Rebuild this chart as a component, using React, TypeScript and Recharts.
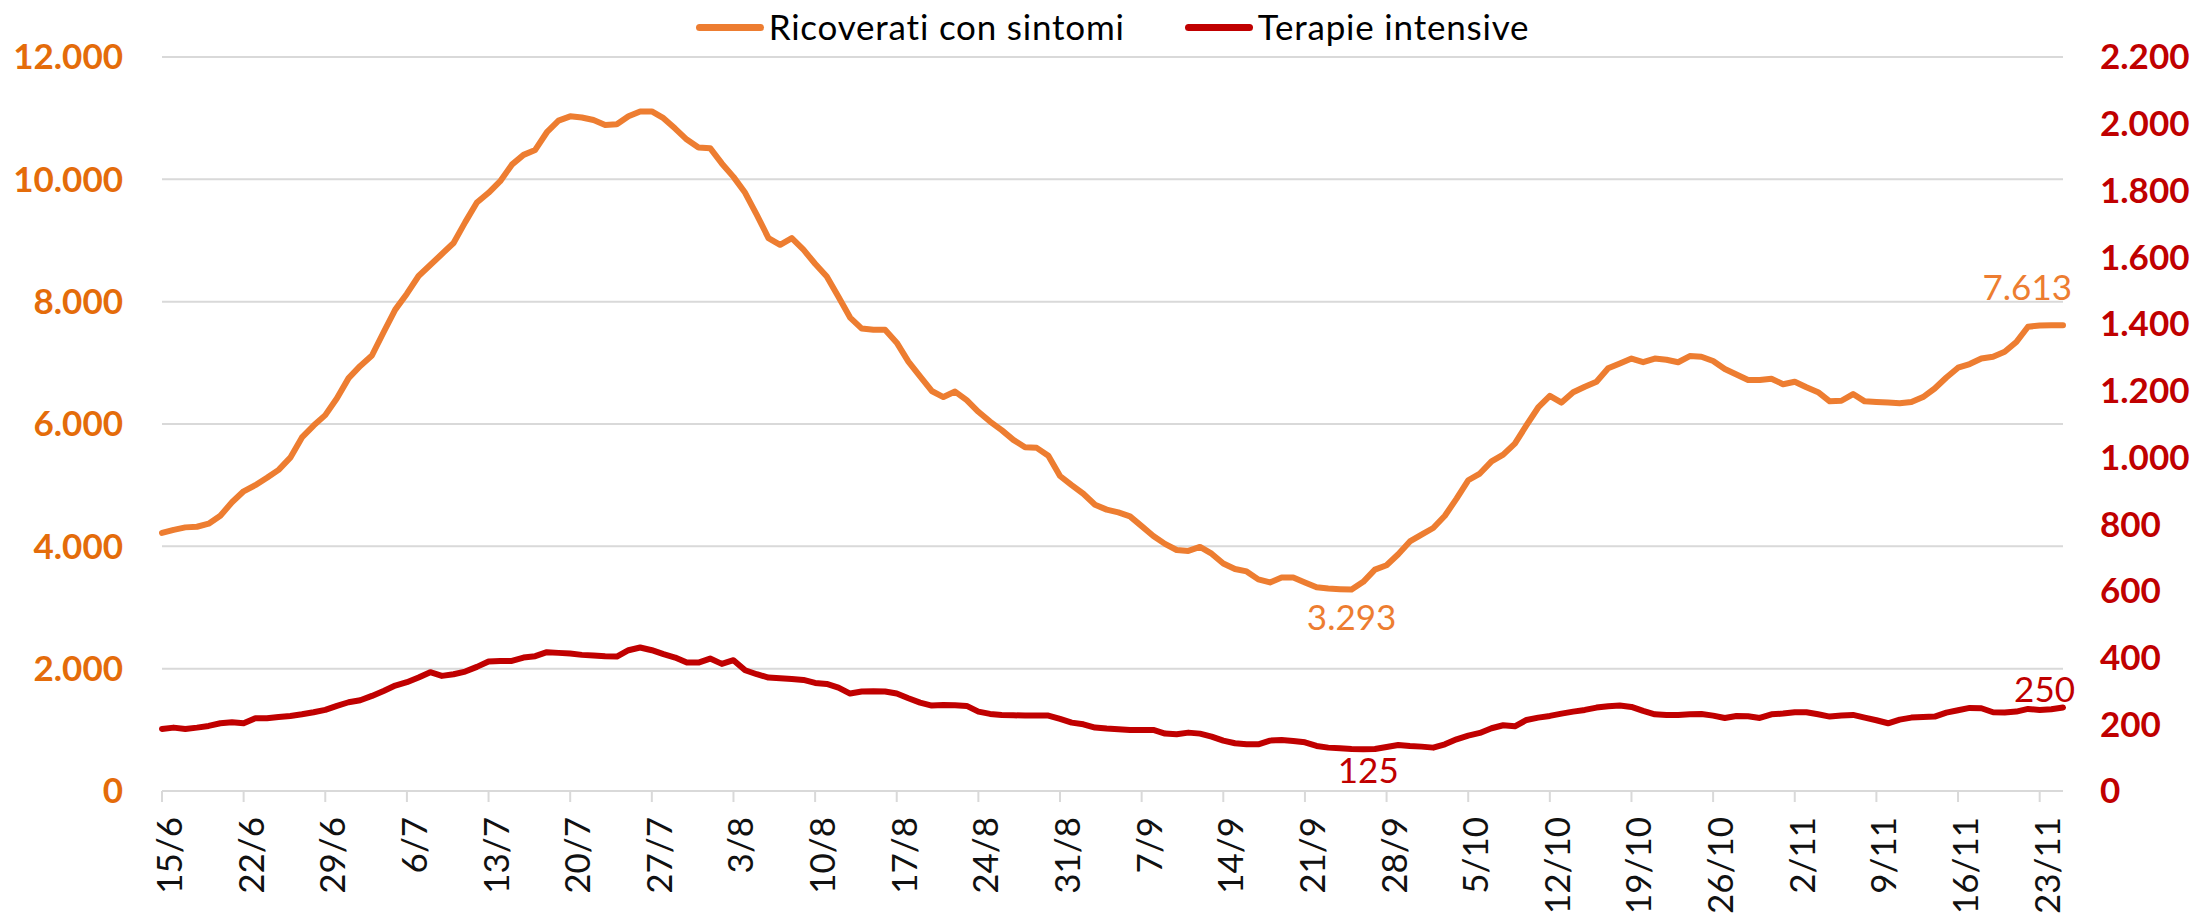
import React from 'react';
import { LineChart, Line, XAxis, YAxis, CartesianGrid, Legend, LabelList } from 'recharts';

// Categories: daily dates from 15/6 to 25/11
const MONTH_SPANS: [number, number, number][] = [
  [6, 15, 30], [7, 1, 31], [8, 1, 31], [9, 1, 30], [10, 1, 31], [11, 1, 25],
];
const categories: string[] = [];
for (const [m, s, e] of MONTH_SPANS) for (let d = s; d <= e; d++) categories.push(`${d}/${m}`);

const ricoverati = [
  4220, 4270, 4310, 4320, 4370, 4500, 4720, 4900, 5000, 5120,
  5250, 5450, 5780, 5975, 6145, 6420, 6750, 6950, 7120, 7500,
  7870, 8130, 8420, 8600, 8780, 8960, 9300, 9620, 9780, 9970,
  10240, 10400, 10480, 10770, 10960, 11030, 11010, 10970, 10890, 10900,
  11030, 11110, 11110, 11000, 10830, 10650, 10520, 10510, 10260, 10040,
  9780, 9420, 9040, 8930, 9040, 8850, 8620, 8410, 8080, 7740,
  7560, 7540, 7540, 7330, 7020, 6780, 6540, 6440, 6530, 6390,
  6200, 6040, 5900, 5740, 5620, 5610, 5480, 5150, 5000, 4860,
  4680, 4600, 4555, 4490, 4330, 4170, 4040, 3940, 3925, 3990,
  3880, 3720, 3630, 3590, 3460, 3410, 3490, 3490, 3410, 3330,
  3310, 3300, 3293, 3420, 3620, 3690, 3870, 4080, 4190, 4300,
  4500, 4780, 5080, 5190, 5390, 5500, 5680, 5980, 6270, 6460,
  6350, 6520, 6610, 6690, 6910, 6990, 7070, 7010, 7070, 7050,
  7010, 7110, 7100, 7030, 6900, 6810, 6720, 6720, 6740, 6650,
  6690, 6600, 6520, 6370, 6380, 6490, 6370, 6360, 6350, 6340,
  6360, 6440, 6580, 6760, 6920, 6980, 7070, 7100, 7180, 7340,
  7590, 7610, 7613, 7613,
];

const terapie = [
  186, 190, 186, 190, 195, 203, 206, 203, 218, 218,
  222, 225, 230, 236, 243, 255, 266, 272, 285, 300,
  316, 326, 340, 356, 345, 350, 358, 372, 388, 390,
  390, 400, 404, 416, 414, 412, 408, 406, 404, 403,
  422, 430, 422, 410, 400, 385, 385, 397, 381, 392,
  362, 350, 340, 338, 336, 333, 324, 321, 310, 292,
  298, 299, 298, 292, 278, 265, 256, 258, 257, 255,
  238, 231, 228, 227, 226, 226, 226, 216, 205, 200,
  190, 187, 185, 183, 183, 183, 172, 170, 175, 172,
  163, 151, 143, 140, 140, 151, 153, 150, 146, 135,
  130, 128, 126, 125, 126, 132, 138, 135, 133, 130,
  140, 155, 166, 174, 188, 197, 194, 213, 220, 225,
  232, 238, 243, 250, 254, 256, 252, 240, 230, 228,
  228, 230, 231, 226, 219, 225, 224, 219, 230, 232,
  236, 236, 230, 223, 226, 228, 220, 212, 203, 214,
  220, 222, 223, 235, 242, 249, 248, 236, 235, 238,
  246, 243, 245, 250,
];

const leftTicks = [0, 2000, 4000, 6000, 8000, 10000, 12000];
const rightTicks = [0, 200, 400, 600, 800, 1000, 1200, 1400, 1600, 1800, 2000, 2200];

const SERIES_NAMES = ['Ricoverati con sintomi', 'Terapie intensive'];
const ORANGE = '#ED7D31';
const ORANGE_AXIS = '#E46C0A';
const RED = '#C00000';
const GRID = '#D9D9D9';
const FONT = 'Lato, "Open Sans", sans-serif';

const data = categories.map((d, i) => ({ d, o: ricoverati[i], r: terapie[i] }));

const fmt = (n: number) => String(n).replace(/\B(?=(\d{3})+(?!\d))/g, '.');

const XTick = (props: any) => {
  const { x, y, payload } = props;
  return (
    <g transform={`translate(${x},${y + 15})`}>
      <text
        transform="rotate(-90)"
        textAnchor="end"
        dy={20}
        fill="#111"
        fontFamily={FONT}
        fontSize={35}
      >
        {payload.value}
      </text>
    </g>
  );
};

type Spec = { dx: number; dy: number; anchor: 'start' | 'middle' | 'end' };

const makeLabel = (color: string, specs: Record<number, Spec>) => (props: any) => {
  const { x, y, value, index } = props;
  const s = specs[index];
  if (!s || x == null || y == null) return null;
  return (
    <text
      x={x + s.dx}
      y={y + s.dy}
      textAnchor={s.anchor}
      fill={color}
      fontFamily={FONT}
      fontSize={35}
    >
      {fmt(value)}
    </text>
  );
};

const LegendContent = (props: any) => {
  const payload = props.payload || [];
  return (
    <div style={{ display: 'flex', justifyContent: 'center', alignItems: 'center', width: '100%' }}>
      {payload.map((p: any, i: number) => (
        <div
          key={i}
          style={{ display: 'flex', alignItems: 'center', marginLeft: i === 0 ? 0 : 60 }}
        >
          <div style={{ width: 68, height: 7, borderRadius: 4, background: p.color, marginRight: 5, marginTop: 2 }} />
          <span
            style={{
              fontFamily: FONT,
              fontSize: 35,
              letterSpacing: 0.8,
              color: '#000',
              lineHeight: '52px',
              whiteSpace: 'nowrap',
            }}
          >
            {p.value}
          </span>
        </div>
      ))}
    </div>
  );
};

export default function App() {
  return (
    <div style={{ position: 'absolute', left: 0, top: 0, width: 2196, height: 913, background: '#fff' }}>
      <LineChart
        width={2196}
        height={913}
        data={data}
        margin={{ top: 57, right: 0, bottom: 0, left: 0 }}
      >
        <CartesianGrid yAxisId="left" vertical={false} stroke={GRID} strokeWidth={2} />
        <XAxis
          dataKey="d"
          interval={6}
          height={122}
          tickSize={11}
          tickMargin={0}
          tickLine={{ stroke: GRID, strokeWidth: 2 }}
          axisLine={{ stroke: GRID, strokeWidth: 2 }}
          tick={<XTick />}
        />
        <YAxis
          yAxisId="left"
          orientation="left"
          width={162}
          domain={[0, 12000]}
          ticks={leftTicks}
          tickFormatter={fmt}
          axisLine={false}
          tickLine={false}
          tickSize={0}
          tickMargin={39}
          tick={{ fill: ORANGE_AXIS, fontFamily: FONT, fontSize: 35, fontWeight: 700 }}
        />
        <YAxis
          yAxisId="right"
          orientation="right"
          width={133}
          domain={[0, 2200]}
          ticks={rightTicks}
          tickFormatter={fmt}
          axisLine={false}
          tickLine={false}
          tickSize={0}
          tickMargin={37}
          tick={{ fill: RED, fontFamily: FONT, fontSize: 35, fontWeight: 700 }}
        />
        <Legend
          layout="horizontal"
          align="center"
          verticalAlign="middle"
          wrapperStyle={{ left: 162, top: 0, width: 1901, height: 52 }}
          content={<LegendContent />}
        />
        <Line
          yAxisId="left"
          dataKey="o"
          name={SERIES_NAMES[0]}
          stroke={ORANGE}
          strokeWidth={6}
          strokeLinejoin="round"
          strokeLinecap="round"
          dot={false}
          activeDot={false}
          isAnimationActive={false}
        >
          <LabelList
            dataKey="o"
            content={makeLabel(ORANGE, {
              102: { dx: 0, dy: 40, anchor: 'middle' },
              163: { dx: 9, dy: -25, anchor: 'end' },
            })}
          />
        </Line>
        <Line
          yAxisId="right"
          dataKey="r"
          name={SERIES_NAMES[1]}
          stroke={RED}
          strokeWidth={6}
          strokeLinejoin="round"
          strokeLinecap="round"
          dot={false}
          activeDot={false}
          isAnimationActive={false}
        >
          <LabelList
            dataKey="r"
            content={makeLabel(RED, {
              103: { dx: 5, dy: 34, anchor: 'middle' },
              163: { dx: 12, dy: -6, anchor: 'end' },
            })}
          />
        </Line>
      </LineChart>
    </div>
  );
}
